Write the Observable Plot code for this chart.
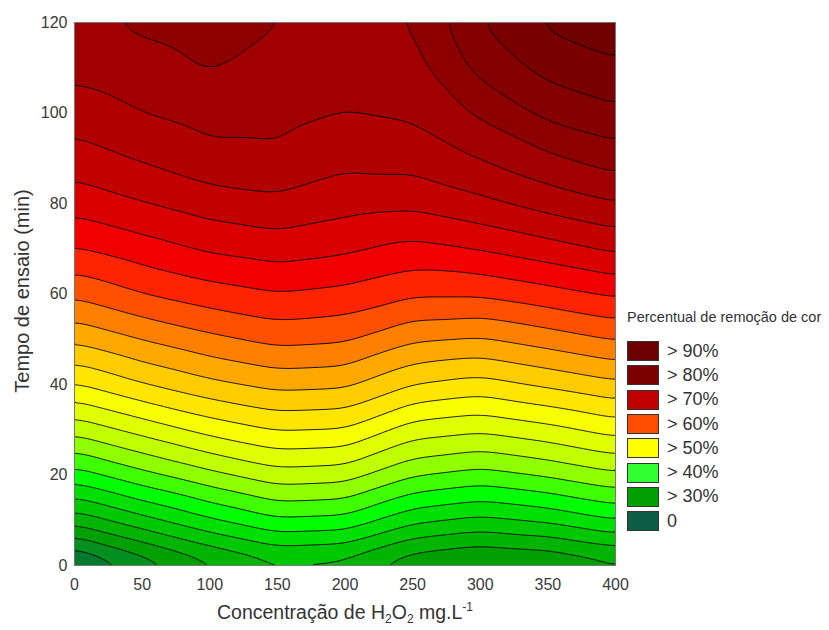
<!DOCTYPE html>
<html>
<head>
<meta charset="utf-8">
<script src="https://cdn.jsdelivr.net/npm/d3@7"></script>
<script src="https://cdn.jsdelivr.net/npm/@observablehq/plot@0.6"></script>
<style>
  body { margin: 0; background: #fff; font-family: "Liberation Sans", Arial, sans-serif; }
  #wrap { position: relative; width: 829px; height: 630px; overflow: hidden; background: #fff; }
  #chart { position: absolute; left: 0; top: 0; }
  .ylab { position: absolute; left: 22px; top: 291px; transform: translate(-50%, -50%) rotate(-90deg); font-size: 20px; color: #333; white-space: nowrap; }
  .xlab { position: absolute; left: 345px; top: 600px; transform: translateX(-50%); font-size: 19.5px; color: #333; white-space: nowrap; }
  .xlab sub, .xlab sup { font-size: 12px; }
  #legend { position: absolute; left: 627px; top: 309px; color: #333; }
  #legend .title { font-size: 14.5px; margin-bottom: 14px; white-space: nowrap; }
  #legend .row { display: flex; align-items: center; height: 24.3px; }
  #legend .sw { width: 30px; height: 18px; border: 1.5px solid #333; margin-right: 8px; }
  #legend .lab { font-size: 18px; }
</style>
</head>
<body>
<div id="wrap">
  <div id="chart"></div>
  <div class="ylab">Tempo de ensaio (min)</div>
  <div class="xlab">Concentração de H<sub>2</sub>O<sub>2</sub> mg.L<sup>-1</sup></div>
  <div id="legend"></div>
</div>
<script>
// H2O2 concentration (mg/L) columns
const conc = [0, 50, 100, 150, 200, 250, 300, 350, 400];
// test time (min) rows
const time = [0, 10, 20, 30, 40, 50, 60, 70, 80, 90, 100, 110, 120];
// colour removal (%), one row per time
const removal = [
  [23.8, 27.9, 31.4, 34.0, 33.5, 30.2, 29.1, 29.6, 31.3],
  [33.5, 36.7, 39.7, 42.2, 41.8, 38.2, 36.9, 38.0, 40.0],
  [41.4, 44.3, 46.8, 49.0, 48.6, 45.3, 44.1, 45.4, 47.1],
  [48.3, 50.9, 53.4, 55.2, 54.9, 51.3, 50.4, 51.7, 53.5],
  [54.9, 57.4, 59.4, 60.8, 60.5, 57.6, 56.5, 58.0, 59.5],
  [60.5, 62.6, 64.4, 65.8, 65.4, 62.9, 62.3, 63.7, 65.2],
  [65.5, 67.5, 68.9, 69.9, 69.3, 67.9, 67.9, 69.1, 70.4],
  [69.9, 71.4, 72.9, 73.7, 73.0, 71.8, 72.7, 74.0, 75.5],
  [73.5, 74.9, 76.2, 76.9, 75.9, 75.6, 76.9, 78.5, 79.9],
  [76.4, 77.8, 79.3, 79.6, 78.2, 78.5, 80.1, 82.0, 83.7],
  [78.7, 80.0, 80.9, 80.7, 80.0, 80.4, 82.9, 85.7, 87.0],
  [80.7, 81.5, 82.7, 81.6, 80.9, 81.6, 85.8, 88.3, 89.6],
  [81.7, 83.0, 83.6, 82.6, 81.8, 82.6, 87.5, 90.5, 91.5]
];
// contour levels (%) and the colour of the band above each level
const levels = [0, 25, 27.5, 30, 32.5, 35, 37.5, 40, 42.5, 45, 47.5, 50, 52.5, 55, 57.5, 60, 62.5, 65, 67.5, 70, 72.5, 75, 77.5, 80, 82.5, 85, 87.5, 90];
const bandColors = ["#0b5e3c", "#007a30", "#009020", "#00a000", "#00b400", "#00c800", "#00e000", "#00ff00", "#40ff00", "#90ff00", "#c0ff00", "#e0ff00", "#f8ff00", "#ffe600", "#ffcc00", "#ffa800", "#ff8000", "#ff5000", "#ff2400", "#f00000", "#d80000", "#c20000", "#b00000", "#a00000", "#8e0000", "#840000", "#7a0000", "#700000"];
// axis ticks
const xTicks = [0, 50, 100, 150, 200, 250, 300, 350, 400];
const yTicks = [0, 20, 40, 60, 80, 100, 120];
// legend
const legendTitle = "Percentual de remoção de cor";
const legendLabels = ["> 90%", "> 80%", "> 70%", "> 60%", "> 50%", "> 40%", "> 30%", "0"];
const legendColors = ["#6c0000", "#7c0000", "#c00000", "#ff4c00", "#ffff00", "#33ff33", "#00a000", "#0c5e44"];

const points = time.flatMap((t, i) => conc.map((c, j) => ({conc: c, time: t, removal: removal[i][j]})));

const chart = Plot.plot({
  width: 640,
  height: 630,
  marginLeft: 74,
  marginRight: 25,
  marginTop: 22,
  marginBottom: 65,
  style: {fontFamily: '"Liberation Sans", Arial, sans-serif', fontSize: "16px", color: "#3a3a3a", background: "transparent"},
  x: {domain: [0, 400], ticks: xTicks, tickSize: 0, tickPadding: 13, label: null},
  y: {domain: [0, 120], ticks: yTicks, tickSize: 0, tickPadding: 7, label: null},
  color: {type: "ordinal", domain: levels, range: bandColors},
  marks: [
    Plot.contour(points, {
      x: "conc", y: "time", fill: "removal",
      interpolate: "barycentric",
      thresholds: levels,
      blur: 5,
      pixelSize: 2,
      stroke: "black",
      strokeWidth: 0.9
    }),
    Plot.frame({stroke: "#777", strokeWidth: 1})
  ]
});
document.getElementById("chart").appendChild(chart);

const legend = document.getElementById("legend");
const title = document.createElement("div");
title.className = "title";
title.textContent = legendTitle;
legend.appendChild(title);
legendLabels.forEach((lab, i) => {
  const row = document.createElement("div");
  row.className = "row";
  const sw = document.createElement("div");
  sw.className = "sw";
  sw.style.background = legendColors[i];
  const tx = document.createElement("div");
  tx.className = "lab";
  tx.textContent = lab;
  row.appendChild(sw);
  row.appendChild(tx);
  legend.appendChild(row);
});
</script>
</body>
</html>
